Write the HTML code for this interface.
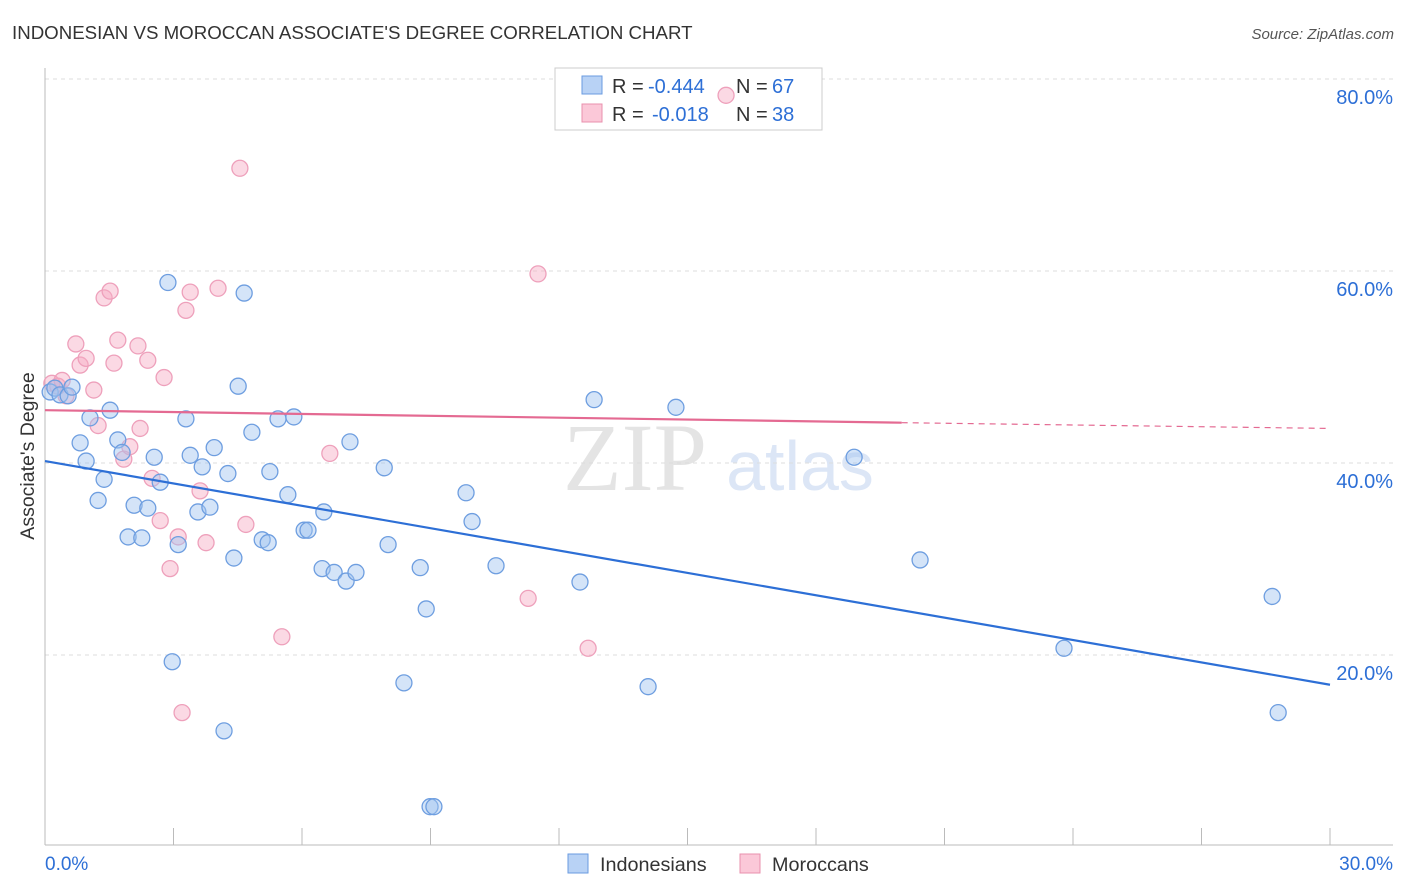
<!DOCTYPE html>
<html><head><meta charset="utf-8"><style>
body{margin:0;background:#fff;font-family:"Liberation Sans",sans-serif}
svg{display:block}
</style></head><body>
<svg id="c" width="1406" height="892" xmlns="http://www.w3.org/2000/svg">
<text x="12" y="39" font-size="18.7" fill="#333">INDONESIAN VS MOROCCAN ASSOCIATE'S DEGREE CORRELATION CHART</text>
<text x="1394" y="39" font-size="15" fill="#555" text-anchor="end" font-style="italic">Source: ZipAtlas.com</text>
<text x="635" y="490" font-size="96" fill="#e4e4e4" font-family="Liberation Serif" text-anchor="middle">ZIP</text>
<text x="800" y="490" font-size="70" fill="#dce6f6" text-anchor="middle">atlas</text>
<text transform="translate(34,456) rotate(-90)" font-size="19.5" fill="#333" text-anchor="middle">Associate's Degree</text>
<g id="grid"></g>
<g>
<rect x="555" y="68" width="267" height="62" fill="#fff" stroke="#ccc"/>
<rect x="582" y="76" width="20" height="18" fill="#b8d2f5" stroke="#6a9be0"/>
<rect x="582" y="104" width="20" height="18" fill="#fbc8d8" stroke="#e890ae"/>
<text x="612" y="93" font-size="20" fill="#333">R =</text>
<text x="648" y="93" font-size="20" fill="#2d6fd6">-0.444</text>
<text x="736" y="93" font-size="20" fill="#333">N =</text>
<text x="772" y="93" font-size="20" fill="#2d6fd6">67</text>
<text x="612" y="121" font-size="20" fill="#333">R =</text>
<text x="652" y="121" font-size="20" fill="#2d6fd6">-0.018</text>
<text x="736" y="121" font-size="20" fill="#333">N =</text>
<text x="772" y="121" font-size="20" fill="#2d6fd6">38</text>
</g>
<g id="marks"></g>
<g>
<rect x="568" y="854" width="20" height="19" fill="#b8d2f5" stroke="#6a9be0"/>
<text x="600" y="871" font-size="19.8" fill="#333">Indonesians</text>
<rect x="740" y="854" width="20" height="19" fill="#fbc8d8" stroke="#e890ae"/>
<text x="772" y="871" font-size="19.8" fill="#333">Moroccans</text>
</g>
</svg>
<script>
const xTickLabels=["0.0%","30.0%"];
const yTicks=[20,40,60,80];
const yTickLabels=["20.0%","40.0%","60.0%","80.0%"];
const blueX=[0.12,0.23,0.35,0.54,0.63,0.82,0.96,1.05,1.24,1.38,1.52,1.70,1.80,1.94,2.08,2.26,2.40,2.55,2.69,2.87,2.97,3.11,3.29,3.39,3.57,3.67,3.85,3.95,4.18,4.27,4.41,4.51,4.65,4.83,5.07,5.21,5.25,5.44,5.67,5.81,6.05,6.14,6.47,6.51,6.75,7.03,7.12,7.26,7.92,8.01,8.38,8.76,8.90,8.99,9.08,9.83,9.97,10.53,12.49,12.82,14.08,14.73,18.89,20.43,23.79,28.65,28.79];
const blueY=[47.4,47.8,47.1,47.0,47.9,42.1,40.2,44.7,36.1,38.3,45.5,42.4,41.1,32.3,35.6,32.2,35.3,40.6,38.0,58.8,19.3,31.5,44.6,40.8,34.9,39.6,35.4,41.6,12.1,38.9,30.1,48.0,57.7,43.2,32.0,31.7,39.1,44.6,36.7,44.8,33.0,33.0,29.0,34.9,28.6,27.7,42.2,28.6,39.5,31.5,17.1,29.1,24.8,4.2,4.2,36.9,33.9,29.3,27.6,46.6,16.7,45.8,40.6,29.9,20.7,26.1,14.0];
const pinkX=[0.16,0.30,0.40,0.49,0.72,0.82,0.96,1.14,1.24,1.38,1.52,1.61,1.70,1.84,1.98,2.17,2.22,2.40,2.50,2.69,2.78,2.92,3.11,3.20,3.29,3.39,3.62,3.76,4.04,4.55,4.69,5.53,6.65,11.28,11.51,12.68,15.90];
const pinkY=[48.3,48.0,48.6,47.0,52.4,50.2,50.9,47.6,43.9,57.2,57.9,50.4,52.8,40.4,41.7,52.2,43.6,50.7,38.4,34.0,48.9,29.0,32.3,14.0,55.9,57.8,37.1,31.7,58.2,70.7,33.6,21.9,41.0,25.9,59.7,20.7,78.3];
const blueTrend=[40.2,16.9];
const pinkTrend=[45.5,44.2,43.6];
const NS="http://www.w3.org/2000/svg";
const sx=v=>45+v/30*1285, sy=v=>847-v/20*192;
function mk(t,a,p){const e=document.createElementNS(NS,t);for(const k in a)e.setAttribute(k,a[k]);p.appendChild(e);return e;}
const g=document.getElementById('grid'),m=document.getElementById('marks');
yTicks.forEach((t,i)=>{
 const l=mk('line',{x1:45,x2:1393,y1:sy(t),y2:sy(t),stroke:'#ddd','stroke-dasharray':'4,4'},g);
 
 
 const tx=mk('text',{x:1393,y:sy(t)+25,'font-size':20,fill:'#2d6fd6','text-anchor':'end'},g);
 tx.textContent=yTickLabels[i];
 
 
});
mk('line',{x1:45,x2:1393,y1:845,y2:845,stroke:'#bbb'},g);
mk('line',{x1:45,x2:45,y1:68,y2:845,stroke:'#bbb'},g);
for(let i=0;i<=10;i++){const t=mk('line',{x1:sx(i*3),x2:sx(i*3),y1:845,y2:828,stroke:'#bbb'},g);
 
 }
[[45,'start',0],[1393,'end',1]].forEach(([x,a,i])=>{const t=mk('text',{x:x,y:870,'font-size':19,fill:'#2d6fd6','text-anchor':a},g);t.textContent=xTickLabels[i];
 
 });
pinkX.forEach((x,i)=>{const c=mk('circle',{cx:sx(x),cy:sy(pinkY[i]),r:8,fill:'rgba(246,170,195,0.45)',stroke:'#eea0bb','stroke-width':1.3},m);
 
 });
blueX.forEach((x,i)=>{const c=mk('circle',{cx:sx(x),cy:sy(blueY[i]),r:8,fill:'rgba(160,195,240,0.45)',stroke:'#6e9ee0','stroke-width':1.3},m);
 
 });
const bt=mk('line',{x1:sx(0),y1:sy(blueTrend[0]),x2:sx(30),y2:sy(blueTrend[1]),stroke:'#2d6fd6','stroke-width':2.2},m);


const pt=mk('line',{x1:sx(0),y1:sy(pinkTrend[0]),x2:sx(20),y2:sy(pinkTrend[1]),stroke:'#e46a92','stroke-width':2.2},m);


const pd=mk('line',{x1:sx(20),y1:sy(pinkTrend[1]),x2:sx(30),y2:sy(pinkTrend[2]),stroke:'#e46a92','stroke-width':1.2,'stroke-dasharray':'6,5'},m);


</script>
</body></html>
